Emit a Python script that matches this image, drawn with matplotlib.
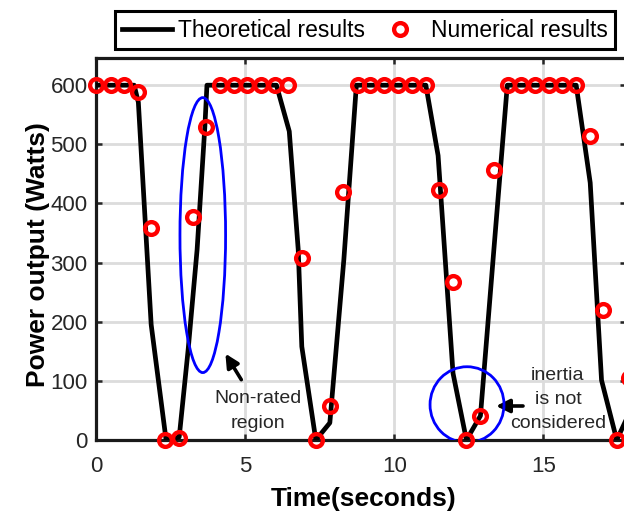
import numpy as np
import matplotlib.pyplot as plt
from matplotlib.patches import Ellipse

plt.rcParams['font.family'] = ['Liberation Sans', 'DejaVu Sans']

# theoretical curve (black line)
t_th = [0, 1.28, 1.42, 1.85, 2.35, 2.79, 3.09, 3.39, 3.65, 3.72, 6.05, 6.48, 6.78, 6.90,
        7.37, 7.84, 8.31, 8.73, 11.06, 11.47, 11.97, 12.42, 12.89, 13.34, 13.79, 16.10,
        16.57, 16.95, 17.46, 17.92]
p_th = [600, 600, 571, 195, 0, 5, 153, 322, 530, 600, 600, 522, 322, 158,
        0, 29, 305, 600, 600, 481, 113, 0, 41, 322, 600, 600,
        435, 101, 0, 50]

# numerical results (red circles)
t_num = [0, 0.49, 0.95, 1.40, 1.84, 2.33, 2.79, 3.24, 3.69, 4.15, 4.62, 5.07, 5.53, 6.00, 6.44,
         6.92, 7.37, 7.84, 8.29,
         8.77, 9.20, 9.66, 10.13, 10.58, 11.06,
         11.50, 11.97, 12.42, 12.89, 13.33,
         13.81, 14.26, 14.71, 15.18, 15.62, 16.10,
         16.57, 17.00, 17.46, 17.88]
p_num = [600, 600, 600, 588, 359, 0, 4, 377, 530, 600, 600, 600, 600, 600, 600,
         308, 0, 58, 419,
         600, 600, 600, 600, 600, 600,
         422, 267, 0, 41, 456,
         600, 600, 600, 600, 600, 600,
         514, 219, 0, 105]

fig = plt.figure(figsize=(6.24, 5.13), dpi=100)
ax = fig.add_axes([96/624, 73/513, 530/624, 382/513])

ax.plot(t_th, p_th, color='k', lw=3.4, label='Theoretical results', zorder=3)
ax.plot(t_num, p_num, 'o', ls='none', mfc='none', mec='red', ms=9.2, mew=3.1,
        label='Numerical results', zorder=4, clip_on=False)

ax.add_patch(Ellipse((3.58, 346.5), 1.53, 465, fill=False, ec='blue', lw=2.0, zorder=5))
ax.add_patch(Ellipse((12.44, 59.7), 2.48, 128.4, fill=False, ec='blue', lw=2.0, zorder=5))

ax.annotate('', xy=(4.29, 150), xytext=(4.92, 98),
            arrowprops=dict(arrowstyle='-|>', color='k', lw=2.6, mutation_scale=20))
ax.text(5.42, 49, 'Non-rated\nregion', ha='center', va='center', fontsize=14,
        color='#262626', linespacing=1.55)
ax.annotate('', xy=(13.32, 57.5), xytext=(14.41, 57.5),
            arrowprops=dict(arrowstyle='-|>', color='k', lw=2.6, mutation_scale=20))
ax.text(15.49, 69, 'inertia\nis not\nconsidered', ha='center', va='center', fontsize=14,
        color='#262626', linespacing=1.55)

ax.set_xlim(0, 17.77)
ax.set_ylim(0, 646)
ax.set_xticks([0, 5, 10, 15])
ax.set_yticks(np.arange(0, 601, 100))
ax.grid(True, color='#dcdcdc', lw=2)
ax.set_axisbelow(True)
ax.tick_params(direction='in', top=True, right=True, length=4, width=1.8,
               labelsize=16, labelcolor='#262626', color='#262626')
ax.tick_params(axis='x', pad=11.5)
ax.tick_params(axis='y', pad=6)
for s in ax.spines.values():
    s.set_linewidth(2.3)
    s.set_color('#1a1a1a')

ax.set_xlabel('Time(seconds)', fontsize=19, fontweight='bold', labelpad=7.5)
ax.set_ylabel('Power output (Watts)', fontsize=19, fontweight='bold', labelpad=0)
ax.xaxis.label.set_x(0.505)
ax.yaxis.label.set_y(0.486)

leg = ax.legend(loc='center', bbox_to_anchor=(0.585, 0.941), bbox_transform=fig.transFigure,
                ncol=2, fontsize=16.5, handlelength=2.14, handletextpad=0.29,
                columnspacing=0.43, borderpad=0.32, fancybox=False, framealpha=1)
leg.get_frame().set_edgecolor('k')
leg.get_frame().set_linewidth(2.2)

fig.savefig('out.png', dpi=100)
